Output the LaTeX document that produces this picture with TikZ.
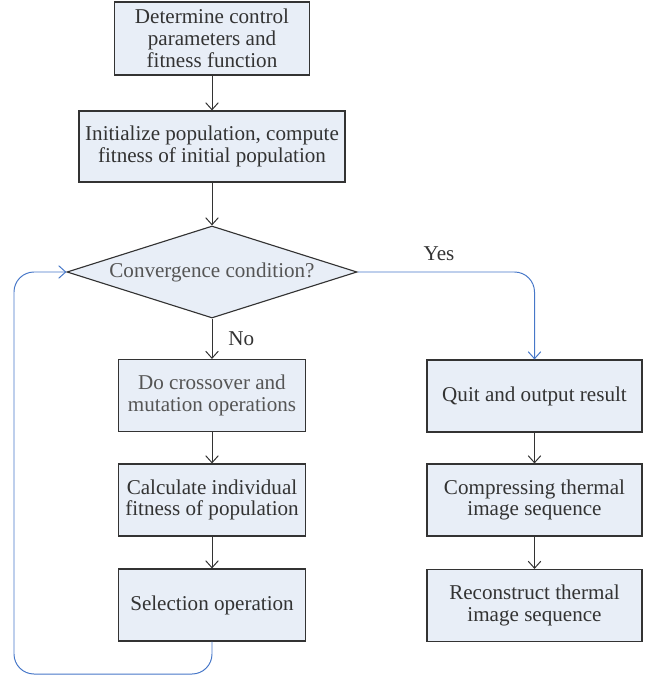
\documentclass[tikz,border=0pt]{standalone}
\usepackage{fontspec}
\setmainfont{Liberation Serif}
\usetikzlibrary{shapes.geometric,arrows.meta}
\definecolor{boxfill}{HTML}{E8EEF7}
\definecolor{boxline}{HTML}{333333}
\definecolor{loopblue}{HTML}{4677C8}
\definecolor{txtgray}{HTML}{555555}

\begin{document}
\begin{tikzpicture}[x=0.025cm,y=-0.025cm,
    every node/.style={font=\fontsize{15}{15.5}\selectfont,text=boxline},
    stepbox/.style={rectangle,draw=boxline,fill=boxfill,line width=0.8pt,align=center,
        minimum width=4.675cm,minimum height=1.8cm,inner sep=2pt},
    test/.style={diamond,draw=boxline,fill=boxfill,line width=0.8pt,
        minimum width=7.25cm,minimum height=2.3cm,inner sep=0pt,aspect=3.15},
    flow/.style={draw=boxline,line width=0.7pt,-{Straight Barb[length=5pt,width=9pt]}},
    back/.style={flow,draw=loopblue,rounded corners=0.5cm}
]
\useasboundingbox (0,0) rectangle (645,676);

% left column
\node[stepbox,minimum width=4.875cm,minimum height=1.825cm] (Param) at (212,38.5) {Determine control\\parameters and\\fitness function};
\node[stepbox,minimum width=6.65cm,minimum height=1.775cm] (Pop) at (212,146.5) {Initialize population, compute\\fitness of initial population};
\node[test,text=txtgray] (Cond) at (212,272) {Convergence condition?};
\node[stepbox,text=txtgray] (Cross) at (212,395.5) {Do crossover and\\mutation operations};
\node[stepbox] (Fit) at (212,500) {Calculate individual\\fitness of population};
\node[stepbox] (Sel) at (212,605) {Selection operation};

% right column
\node[stepbox,minimum width=5.375cm] (Quit) at (534.5,396) {Quit and output result};
\node[stepbox,minimum width=5.375cm] (Comp) at (534.5,500) {Compressing thermal\\image sequence};
\node[stepbox,minimum width=5.375cm] (Recon) at (534.5,605.5) {Reconstruct thermal\\image sequence};

\coordinate (LoopEnd) at (14,674);

\draw[flow] (Param) -- (Pop);
\draw[flow] (Pop) -- (Cond);
\draw[flow] (Cond) -- node[right=8pt]{No} (Cross);
\draw[flow] (Cross) -- (Fit);
\draw[flow] (Fit) -- (Sel);
\draw[flow] (Quit) -- (Comp);
\draw[flow] (Comp) -- (Recon);
\draw[back] (Cond.east) -| node[pos=0.23,above=4pt]{Yes} (Quit.north);
\draw[back] (Sel.south) |- (LoopEnd) |- (Cond.west);

\end{tikzpicture}
\end{document}
